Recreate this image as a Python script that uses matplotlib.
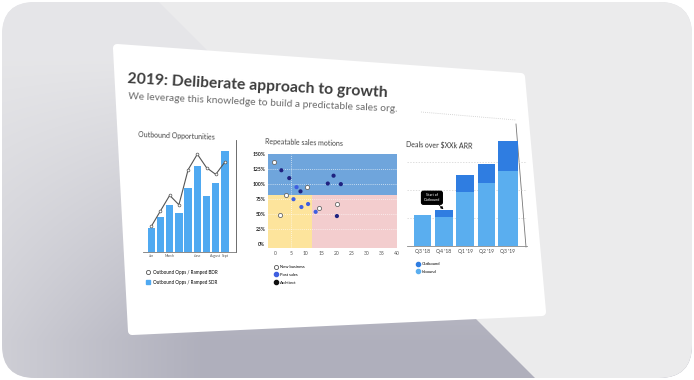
import numpy as np
import matplotlib
matplotlib.use("Agg")
import matplotlib.pyplot as plt
from matplotlib.patches import FancyBboxPatch, Polygon
from matplotlib.lines import Line2D

plt.rcParams['font.family'] = ['Lato', 'DejaVu Sans']

# --- chart 1: outbound opportunities per month
months = ["Jan", "Feb", "Mar", "Apr", "May", "Jun", "Jul", "Aug", "Sep"]
opps_sdr = [7, 10.5, 14, 11.5, 19, 25.5, 16.5, 20.5, 30]
opps_bdr = [7.6, 12.2, 16.8, 14, 24.4, 29, 25, 23, 26.7]
month_ticks = [0, 2, 5, 7, 8]
month_tick_labels = ["Jan", "March", "June", "August", "Sept"]

# --- chart 2: repeatable sales motions (x = deals, y = % of quota)
new_biz_x = [-0.5, 10.4, 3.5, 14.3, 1.6, 20.1]
new_biz_y = [137, 95, 82, 60, 48, 67]
post_sales_x = [6.9, 5.9, 8.5, 10.7, 13.2]
post_sales_y = [95, 75, 62, 67, 54]
architect_x = [1.9, 4.5, 8.2, 17.2, 19.1, 21.5, 20.2]
architect_y = [123, 110, 88, 101, 114, 100, 47]
quota_split = 82
deal_split = 12

# --- chart 3: deals over $XXk ARR
quarters = ["Q3 '18", "Q4 '18", "Q1 '19", "Q2 '19", "Q3 '19"]
inbound = [11, 10.5, 19.5, 22.5, 27]
outbound = [0, 2.5, 6, 7, 10.5]

W, H = 694, 380
fig = plt.figure(figsize=(W / 100, H / 100), dpi=100)
fig.patch.set_facecolor("white")


def box(x0, y0, x1, y1):
    # pixel box (top-left origin) -> figure fraction rect
    return [x0 / W, 1 - y1 / H, (x1 - x0) / W, (y1 - y0) / H]


# background, frame and the tilted slide card
bg = fig.add_axes([0, 0, 1, 1], zorder=-1)
bg.set_xlim(0, W)
bg.set_ylim(H, 0)
bg.axis("off")

frame = FancyBboxPatch((2, 2), W - 4, H - 4, boxstyle="round,pad=0,rounding_size=33",
                       fc="#e9e9eb", ec="none", zorder=0)
bg.add_patch(frame)
yy, xx = np.mgrid[0:H, 0:W]
wgt = np.clip((yy - 60) / 280, 0, 1) * np.clip((xx + 150) / 350, 0, 1)
light = np.array([0.90, 0.90, 0.91])
dark = np.array([0.69, 0.69, 0.74])
shade = light * (1 - wgt[..., None]) + dark * wgt[..., None]
im = bg.imshow(shade, extent=(0, W, H, 0), zorder=1, aspect="auto")
im.set_clip_path(frame)
lite = Polygon([(157, 0), (W, 0), (W, H), (157 + H, H)], fc="#ebebec", ec="none", zorder=2)
bg.add_patch(lite)
lite.set_clip_path(frame)

card = Polygon([(117, 48), (521, 77), (542, 312), (132, 331)], closed=True,
               fc="white", ec="white", lw=5.8, joinstyle="round", zorder=3)
bg.add_patch(card)

bg.text(127, 83, "2019: Deliberate approach to growth", fontsize=11.3, fontweight="bold",
        color="#3d3d3d", rotation=-3.1, rotation_mode="anchor", va="baseline", zorder=4)
bg.text(128, 99.5, "We leverage this knowledge to build a predictable sales org.", fontsize=7.4,
        color="#6a6a6a", rotation=-2.7, rotation_mode="anchor", va="baseline", zorder=4)
bg.plot([421, 516], [112, 120], ls=(0, (1, 1.5)), color="#c8c8c8", lw=0.6, zorder=4)

bg.text(138, 137, "Outbound Opportunities", fontsize=5, color="#444444", rotation=-2,
        rotation_mode="anchor", va="baseline", zorder=4)
bg.text(265, 144, "Repeatable sales motions", fontsize=5, color="#444444", rotation=-1.5,
        rotation_mode="anchor", va="baseline", zorder=4)
bg.text(406, 147, "Deals over $XXk ARR", fontsize=5, color="#333333", rotation=-1.5,
        rotation_mode="anchor", va="baseline", zorder=4)
bg.plot([516, 526], [124, 247], color="#777777", lw=0.6, zorder=4)

# --- chart 1
ax1 = fig.add_axes(box(143, 140, 236, 252))
ax1.patch.set_alpha(0)
x1 = np.arange(len(months))
ax1.bar(x1, opps_sdr, width=0.8, color="#4fa9f1", zorder=2)
ax1.plot(x1, opps_bdr, color="#555555", lw=0.8, marker="o", ms=2, mfc="white",
         mec="#555555", mew=0.5, zorder=3)
ax1.set_xlim(-0.9, 9.2)
ax1.set_ylim(0, 33.2)
ax1.set_xticks(month_ticks)
ax1.set_xticklabels(month_tick_labels, fontsize=2.5, color="#555555")
ax1.tick_params(length=0, pad=1.5)
ax1.set_yticks([])
for s in ["top", "left"]:
    ax1.spines[s].set_visible(False)
ax1.spines["bottom"].set_color("#777777")
ax1.spines["bottom"].set_linewidth(0.6)
ax1.spines["right"].set_color("#555555")
ax1.spines["right"].set_linewidth(0.6)

h1 = [Line2D([], [], ls="", marker="o", ms=3, mfc="white", mec="#555555", mew=0.6),
      Line2D([], [], ls="", marker="s", ms=3, color="#4fa9f1")]
ax1.legend(h1, ["Outbound Opps / Ramped BDR", "Outbound Opps / Ramped SDR"],
           loc="upper left", bbox_to_anchor=(146 / W, 1 - 270 / H), bbox_transform=fig.transFigure,
           frameon=False, fontsize=3.3, handlelength=1, handletextpad=0.6, labelspacing=1.0,
           borderpad=0, borderaxespad=0)

# --- chart 2
ax2 = fig.add_axes(box(268, 154, 397, 248))
ax2.set_xlim(-2.5, 40)
ax2.set_ylim(-6, 150)
ax2.axhspan(quota_split, 150, color="#6fa5dc", lw=0, zorder=0)
ax2.fill_between([-2.5, deal_split], -6, quota_split, color="#fde49c", lw=0, zorder=0)
ax2.fill_between([deal_split, 40], -6, quota_split, color="#f3cdce", lw=0, zorder=0)
for yv in [25, 50, 75, 100, 125]:
    ax2.axhline(yv, color="white", ls=(0, (1, 1.5)), lw=0.6, alpha=0.8, zorder=1)
ax2.axvline(5, color="white", ls=(0, (1, 1.5)), lw=0.6, alpha=0.8, zorder=1)
ax2.scatter(new_biz_x, new_biz_y, s=9, c="white", edgecolors="#666666", linewidths=0.6, zorder=3)
ax2.scatter(post_sales_x, post_sales_y, s=9, c="#3f5fe0", edgecolors="none", zorder=3)
ax2.scatter(architect_x, architect_y, s=9, c="#1f2280", edgecolors="none", zorder=3)
ax2.set_yticks(range(0, 151, 25))
ax2.set_yticklabels([f"{v}%" for v in range(0, 151, 25)], fontsize=3.6, fontweight="bold",
                    color="#222222")
ax2.set_xticks(range(0, 41, 5))
ax2.set_xticklabels([str(v) for v in range(0, 41, 5)], fontsize=3.6, color="#555555")
ax2.tick_params(length=0, pad=2)
for s in ax2.spines.values():
    s.set_visible(False)

h2 = [Line2D([], [], ls="", marker="o", ms=3, mfc="white", mec="#555555", mew=0.6),
      Line2D([], [], ls="", marker="o", ms=3, color="#3f5fe0"),
      Line2D([], [], ls="", marker="o", ms=3, color="#111111")]
ax2.legend(h2, ["New business", "Post sales", "Architect"],
           loc="upper left", bbox_to_anchor=(274 / W, 1 - 265 / H), bbox_transform=fig.transFigure,
           frameon=False, fontsize=3.0, handlelength=0.8, handletextpad=0.6, labelspacing=0.9,
           borderpad=0, borderaxespad=0)

# --- chart 3
ax3 = fig.add_axes(box(407, 126, 527, 246))
ax3.patch.set_alpha(0)
x3 = np.arange(len(quarters))
widths = [0.82, 0.82, 0.82, 0.82, 0.95]
ax3.bar(x3, inbound, width=widths, color="#5aaeef", zorder=2)
ax3.bar(x3, outbound, bottom=inbound, width=widths, color="#2f7de1", zorder=2)
ax3.set_xlim(-0.73, 4.9)
ax3.set_ylim(0, 43)
ax3.set_yticks([10, 20, 30])
ax3.yaxis.grid(True, color="#d0d0d0", ls=(0, (2, 2)), lw=0.5)
ax3.set_axisbelow(True)
ax3.set_yticklabels([])
ax3.set_xticks(x3)
ax3.set_xticklabels(quarters, fontsize=3.6, color="#444444")
ax3.tick_params(length=0, pad=2)
for s in ["top", "left", "right"]:
    ax3.spines[s].set_visible(False)
ax3.spines["bottom"].set_color("#888888")
ax3.spines["bottom"].set_linewidth(0.6)

ax3.annotate("Start of\nOutbound", xy=(1, inbound[1] + outbound[1]), xytext=(-8.6, 8.6),
             textcoords="offset points", ha="center", va="center", fontsize=2.6, color="white",
             bbox=dict(boxstyle="round,pad=0.6,rounding_size=0.5", fc="black", ec="black"),
             arrowprops=dict(arrowstyle="-|>", color="black", lw=0.5, mutation_scale=4,
                             shrinkA=0, shrinkB=0.5),
             zorder=5)

h3 = [Line2D([], [], ls="", marker="o", ms=3, color="#2f7de1"),
      Line2D([], [], ls="", marker="o", ms=3, color="#5aaeef")]
ax3.legend(h3, ["Outbound", "Inbound"],
           loc="upper left", bbox_to_anchor=(416 / W, 1 - 262 / H), bbox_transform=fig.transFigure,
           frameon=False, fontsize=3.0, handlelength=0.8, handletextpad=0.6, labelspacing=0.9,
           borderpad=0, borderaxespad=0)

fig.savefig("out.png", dpi=100)
